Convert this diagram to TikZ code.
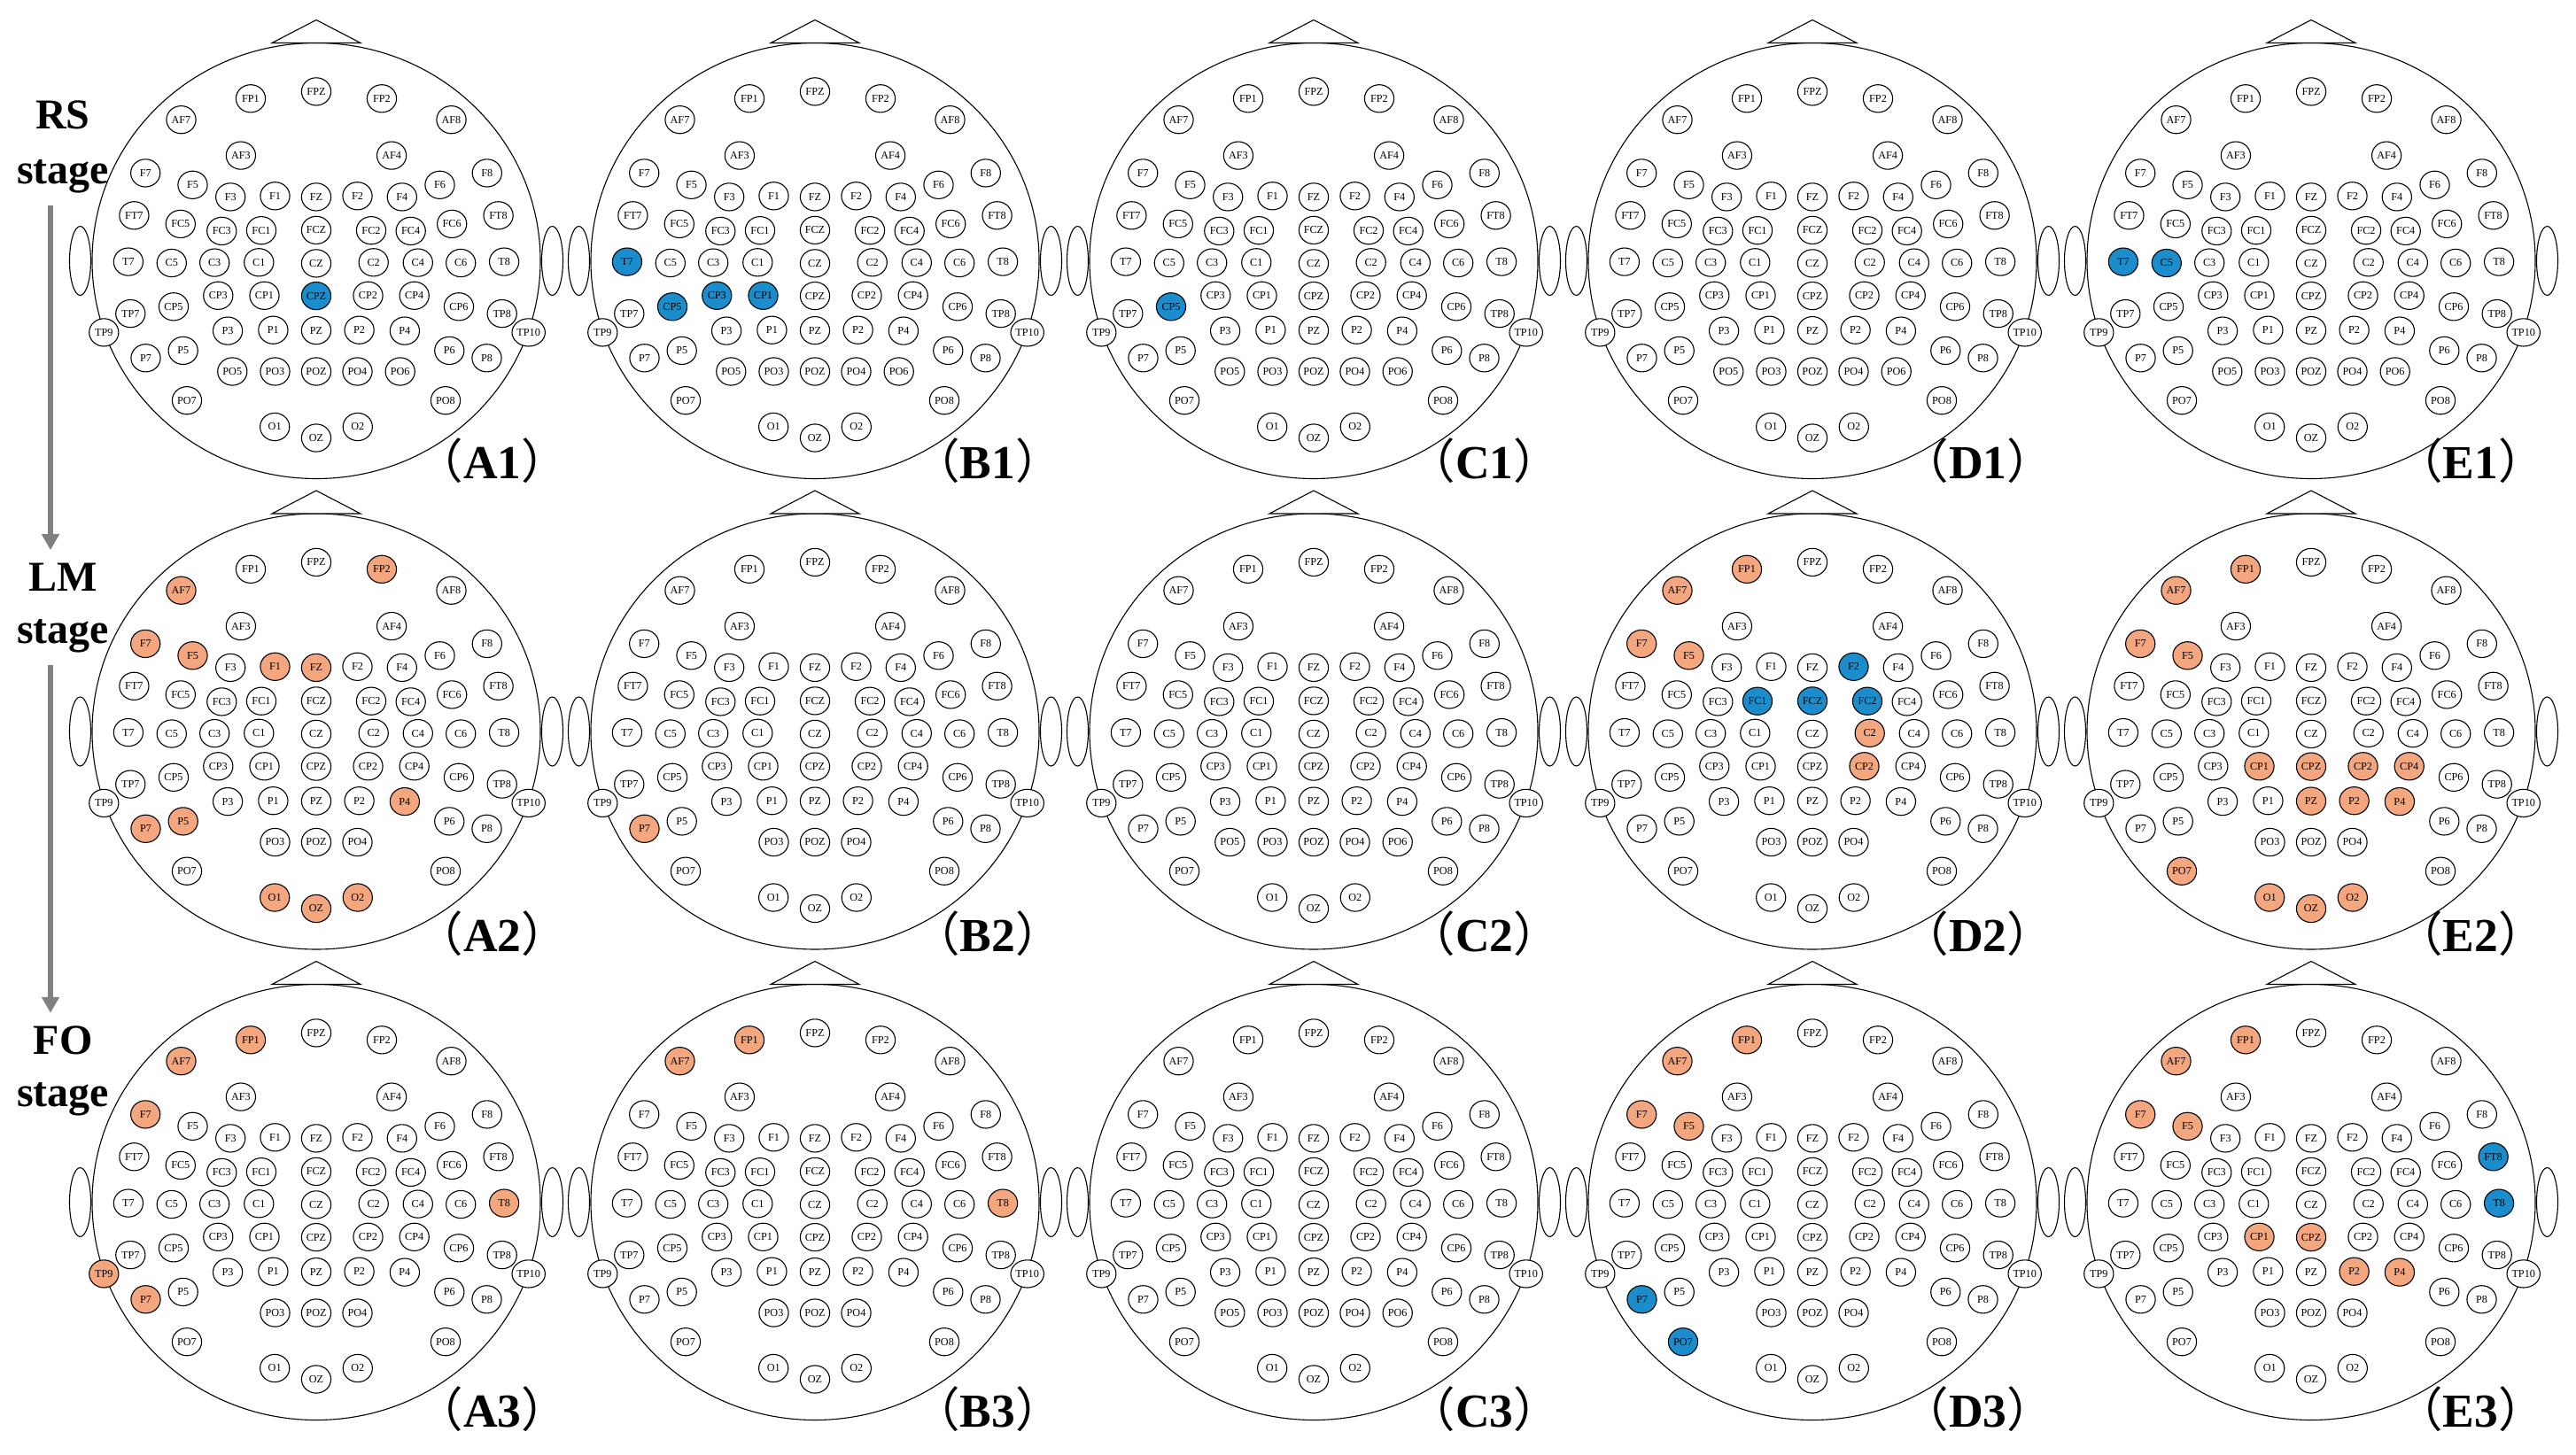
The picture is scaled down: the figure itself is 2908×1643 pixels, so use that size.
\documentclass[tikz,border=0pt]{standalone}
\usepackage{fontspec}
\setmainfont{Liberation Serif}
\newfontfamily\cjk{Noto Sans CJK SC}
\usetikzlibrary{arrows.meta,shapes.geometric}
\definecolor{eblue}{RGB}{27,141,205}
\definecolor{eorange}{RGB}{244,166,126}
\definecolor{arrowgray}{RGB}{128,128,128}

\tikzset{
  elec/.style={ellipse, draw=black, line width=0.55pt, minimum width=16.6pt, minimum height=15.6pt, inner sep=0pt, font=\fontsize{6.1}{6.5}\selectfont},
  headline/.style={draw=black, line width=0.55pt},
  stagelbl/.style={font=\fontsize{24}{28}\selectfont\bfseries, anchor=base, inner sep=0pt},
  panellbl/.style={font=\fontsize{26.75}{30}\selectfont\bfseries, anchor=base, inner sep=0pt},
  stagearrow/.style={draw=arrowgray, line width=2.75pt, -{Triangle[length=9pt,width=9.5pt]}, shorten <=7pt, shorten >=7pt},
}

% electrode positions relative to the head centre (px, y downwards)
\def\elist{FPZ/0/-191.1, FP1/-74/-183.2, FP2/74/-183.2,
AF7/-152.5/-159.3, AF8/152.5/-159.3, AF3/-85.1/-118.9, AF4/85.1/-118.9,
F7/-192.8/-99.1, F8/192.8/-99.1, F5/-139.5/-85.7, F6/139.5/-85.7,
F3/-96.8/-72.1, F1/-46.5/-73.2, FZ/0/-72.1, F2/46.5/-73.2, F4/96.8/-72.1,
FT7/-205.6/-51.2, FT8/205.6/-51.2, FC5/-153.2/-41.6, FC6/153.2/-41.6,
FC3/-106.7/-33.6, FC1/-62/-34.3, FCZ/0/-34.6, FC2/62/-34.3, FC4/106.7/-33.6,
T7/-212.1/1.1, C5/-163.2/2.5, C3/-114.8/2.1, C1/-64.7/1.8, CZ/0/2.9, C2/64.7/1.8, C4/114.8/2.1, C6/163.2/2.5, T8/212.1/1.1,
CP3/-110.7/39.3, CP1/-58.5/39.3, CPZ/0/39.6, CP2/58.5/39.3, CP4/110.7/39.3,
CP5/-161/51.8, CP6/161/51.8, TP7/-209.7/59.6, TP8/209.7/59.6, TP9/-239.7/80.9, TP10/239.7/80.9,
P3/-99.9/79.1, P1/-48.6/78.2, PZ/0/78.6, P2/48.6/78.2, P4/99.9/79.1,
P5/-150.3/101.4, P6/150.3/101.4, P7/-192.5/109.8, P8/192.5/109.8,
PO3/-46.5/125, POZ/0/125, PO4/46.5/125,
PO7/-146/157.7, PO8/146/157.7, O1/-46.8/187.5, OZ/0/200, O2/46.8/187.5}
\def\elistextra{PO5/-94.7/125, PO6/94.7/125}

\newcommand\markel[3]{\foreach \x in {#3}{\expandafter\xdef\csname hl@#1@\x\endcsname{#2}}}

\newcommand\eegnodes[4]{% head name, cx, cy, list
  \foreach \en/\ex/\ey in #4 {
    \ifcsname hl@#1@\en\endcsname \edef\ecol{\csname hl@#1@\en\endcsname}\else \def\ecol{white}\fi
    \node[elec, fill=\ecol] (#1-\en) at ({#2+\ex},{#3+\ey}) {\en};
  }%
}

\newcommand\eeghead[4]{% name, cx, cy, has PO5/PO6 (1/0)
  \draw[headline] ({#2-266.5},#3) ellipse [x radius=12, y radius=39];
  \draw[headline] ({#2+266.5},#3) ellipse [x radius=12, y radius=39];
  \draw[headline, fill=white] (#2,#3) ellipse [x radius=253, y radius=246];
  \draw[headline, fill=white] ({#2-50},{#3-246}) -- (#2,{#3-272}) -- ({#2+50},{#3-246}) -- cycle;
  \eegnodes{#1}{#2}{#3}{\elist}
  \ifnum#4=1 \eegnodes{#1}{#2}{#3}{\elistextra}\fi
}

% highlighted electrodes
\markel{A1}{eblue}{CPZ}
\markel{B1}{eblue}{T7,CP5,CP3,CP1}
\markel{C1}{eblue}{CP5}
\markel{E1}{eblue}{T7,C5}
\markel{A2}{eorange}{AF7,FP2,F7,F5,F1,FZ,P4,P7,P5,O1,OZ,O2}
\markel{B2}{eorange}{P7}
\markel{D2}{eorange}{FP1,AF7,F7,F5,C2,CP2}
\markel{D2}{eblue}{F2,FC1,FCZ,FC2}
\markel{E2}{eorange}{FP1,AF7,F7,F5,CP1,CPZ,CP2,CP4,PZ,P2,P4,PO7,O1,OZ,O2}
\markel{A3}{eorange}{FP1,AF7,F7,T8,TP9,P7}
\markel{B3}{eorange}{FP1,AF7,T8}
\markel{D3}{eorange}{FP1,AF7,F7,F5}
\markel{D3}{eblue}{P7,PO7}
\markel{E3}{eorange}{FP1,AF7,F7,F5,CP1,CPZ,P2,P4}
\markel{E3}{eblue}{FT8,T8}

\begin{document}
\begin{tikzpicture}[x=0.5pt, y=-0.5pt]
\useasboundingbox (0,0) rectangle (2908,1643);
\fill[white] (0,0) rectangle (2908,1643);

% heads: row 1
\eeghead{A1}{357}{294.5}{1}
\eeghead{B1}{920}{294.5}{1}
\eeghead{C1}{1483}{294.5}{1}
\eeghead{D1}{2046}{294.5}{1}
\eeghead{E1}{2609}{294.5}{1}
% row 2
\eeghead{A2}{357}{826}{0}
\eeghead{B2}{920}{826}{0}
\eeghead{C2}{1483}{826}{1}
\eeghead{D2}{2046}{826}{0}
\eeghead{E2}{2609}{826}{0}
% row 3
\eeghead{A3}{357}{1357.5}{0}
\eeghead{B3}{920}{1357.5}{0}
\eeghead{C3}{1483}{1357.5}{1}
\eeghead{D3}{2046}{1357.5}{0}
\eeghead{E3}{2609}{1357.5}{0}

% panel labels
\node[panellbl] (lA1) at (556,540) {{\cjk\mdseries （}A1{\cjk\mdseries ）}};
\node[panellbl] (lB1) at (1115,540) {{\cjk\mdseries （}B1{\cjk\mdseries ）}};
\node[panellbl] (lC1) at (1676,540) {{\cjk\mdseries （}C1{\cjk\mdseries ）}};
\node[panellbl] (lD1) at (2233,540) {{\cjk\mdseries （}D1{\cjk\mdseries ）}};
\node[panellbl] (lE1) at (2789,540) {{\cjk\mdseries （}E1{\cjk\mdseries ）}};
\node[panellbl] (lA2) at (556,1074) {{\cjk\mdseries （}A2{\cjk\mdseries ）}};
\node[panellbl] (lB2) at (1115,1074) {{\cjk\mdseries （}B2{\cjk\mdseries ）}};
\node[panellbl] (lC2) at (1676,1074) {{\cjk\mdseries （}C2{\cjk\mdseries ）}};
\node[panellbl] (lD2) at (2233,1074) {{\cjk\mdseries （}D2{\cjk\mdseries ）}};
\node[panellbl] (lE2) at (2789,1074) {{\cjk\mdseries （}E2{\cjk\mdseries ）}};
\node[panellbl] (lA3) at (556,1611) {{\cjk\mdseries （}A3{\cjk\mdseries ）}};
\node[panellbl] (lB3) at (1115,1611) {{\cjk\mdseries （}B3{\cjk\mdseries ）}};
\node[panellbl] (lC3) at (1676,1611) {{\cjk\mdseries （}C3{\cjk\mdseries ）}};
\node[panellbl] (lD3) at (2233,1611) {{\cjk\mdseries （}D3{\cjk\mdseries ）}};
\node[panellbl] (lE3) at (2789,1611) {{\cjk\mdseries （}E3{\cjk\mdseries ）}};

% stage labels
\node[stagelbl] (rsA) at (71,146) {RS};
\node[stagelbl] (rsB) at (71,207) {stage};
\node[stagelbl] (lmA) at (71,667) {LM};
\node[stagelbl] (lmB) at (71,726) {stage};
\node[stagelbl] (foA) at (71,1190) {FO};
\node[stagelbl] (foB) at (71,1249) {stage};

\coordinate (arrowx) at (57,0);
\draw[stagearrow] (rsB.south -| arrowx) -- (lmA.north -| arrowx);
\draw[stagearrow] (lmB.south -| arrowx) -- (foA.north -| arrowx);
\end{tikzpicture}
\end{document}
